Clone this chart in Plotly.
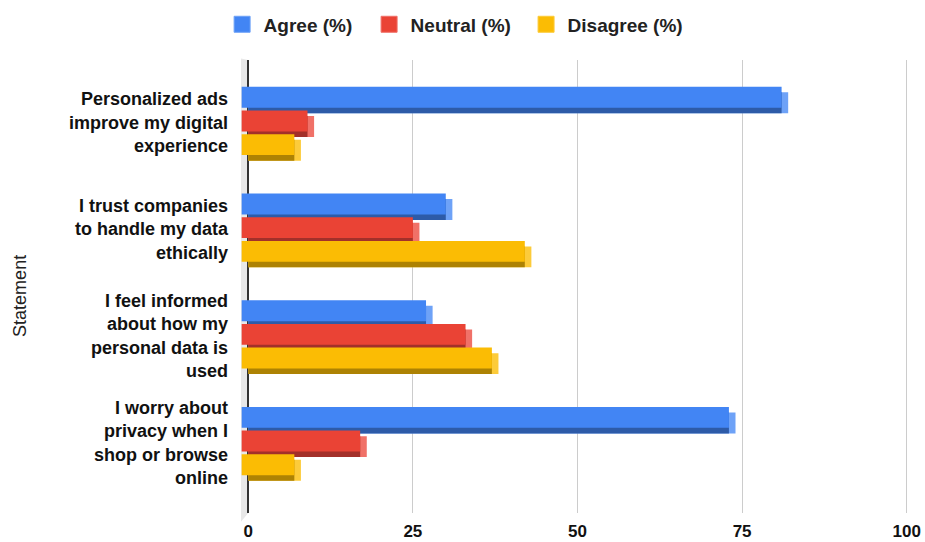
import plotly.graph_objects as go

statements = [
    "Personalized ads<br>improve my digital<br>experience",
    "I trust companies<br>to handle my data<br>ethically",
    "I feel informed<br>about how my<br>personal data is<br>used",
    "I worry about<br>privacy when I<br>shop or browse<br>online",
]
agree = [82, 31, 28, 74]
neutral = [10, 26, 34, 18]
disagree = [8, 43, 38, 8]
x_ticks = [0, 25, 50, 75, 100]

series = [
    ("Agree (%)", agree, "#4285F4", "#2D5BA8", "#6EA2F7"),
    ("Neutral (%)", neutral, "#EA4335", "#A3302A", "#F07168"),
    ("Disagree (%)", disagree, "#FBBC04", "#AD8203", "#FCCB3A"),
]
legend_ids = ["legend", "legend2", "legend3"]
legend_x = [0.2385, 0.3974, 0.5671]

DEPTH_X = 1.0      # depth of the 3D effect, in value units
DEPTH_Y = 0.052    # depth of the 3D effect, in category units
FRONT_W = 0.196
PITCH = 0.222
FIRST = -0.334

fig = go.Figure()
for i, (name, vals, front, dark, light) in enumerate(series):
    off = FIRST + i * PITCH
    # right (light) face
    fig.add_trace(go.Bar(
        y=statements, x=vals, base=0, orientation="h",
        offset=off + DEPTH_Y, width=FRONT_W,
        marker=dict(color=light, line=dict(width=0)),
        showlegend=False, hoverinfo="skip"))
    # bottom (dark) face
    fig.add_trace(go.Bar(
        y=statements, x=[v - DEPTH_X for v in vals], base=0, orientation="h",
        offset=off + DEPTH_Y, width=FRONT_W,
        marker=dict(color=dark, line=dict(width=0)),
        showlegend=False, hoverinfo="skip"))
    # front face
    fig.add_trace(go.Bar(
        y=statements, x=vals, base=-DEPTH_X, orientation="h",
        offset=off, width=FRONT_W, name=name, showlegend=False,
        marker=dict(color=front, line=dict(width=0)),
        hovertemplate="%{y}: " + "%{customdata}<extra>" + name + "</extra>",
        customdata=vals))

# legend entries (square swatches), one legend per series for exact spacing
for (name, vals, front, dark, light), lid in zip(series, legend_ids):
    fig.add_trace(go.Scatter(
        x=[None], y=[None], mode="markers", name=name, legend=lid,
        marker=dict(symbol="square", size=16, color=front,
                    line=dict(color=light, width=1))))

fig.add_shape(type="path", xref="x", yref="paper",
              path="M -1.7 1.005 L 0 1.0 L 0 0.0 L -1.7 -0.03 Z",
              fillcolor="#E8E8E8", line=dict(width=0), layer="below")

fig.add_annotation(text="Statement", xref="paper", yref="paper",
                   x=-0.3305, y=0.479, xanchor="center", yanchor="middle",
                   textangle=-90, showarrow=False,
                   font=dict(size=18, color="#222222"))

font_family = "Arial, 'Liberation Sans', sans-serif"
legend_common = dict(orientation="h", xref="container", yref="container",
                     y=0.99, xanchor="left", yanchor="top",
                     font=dict(size=19, color="#222222", weight="bold"),
                     itemwidth=33, bgcolor="rgba(0,0,0,0)")
legends = {lid: dict(legend_common, x=lx) for lid, lx in zip(legend_ids, legend_x)}

fig.update_layout(
    width=925, height=542,
    margin=dict(l=241, r=15, t=60, b=29),
    paper_bgcolor="white", plot_bgcolor="white",
    barmode="overlay",
    font=dict(family=font_family, color="#222222"),
    xaxis=dict(range=[-1.1, 100.5], tickvals=x_ticks, ticktext=[str(t) for t in x_ticks],
               showgrid=True, gridcolor="#CCCCCC", gridwidth=1,
               zeroline=True, zerolinecolor="#333333", zerolinewidth=1.5,
               tickfont=dict(size=17, color="#111111", weight="bold",
                             family="'Liberation Sans Narrow', 'Arial Narrow', Arial, sans-serif"),
               ticklabelstandoff=6, showline=False, automargin=False),
    yaxis=dict(type="category", range=[3.66, -0.585], showgrid=False,
               zeroline=False, showline=False, automargin=False,
               tickfont=dict(size=18, color="#111111", weight="bold"),
               ticklabelstandoff=12),
    **legends,
)

fig.write_html("out.html")
